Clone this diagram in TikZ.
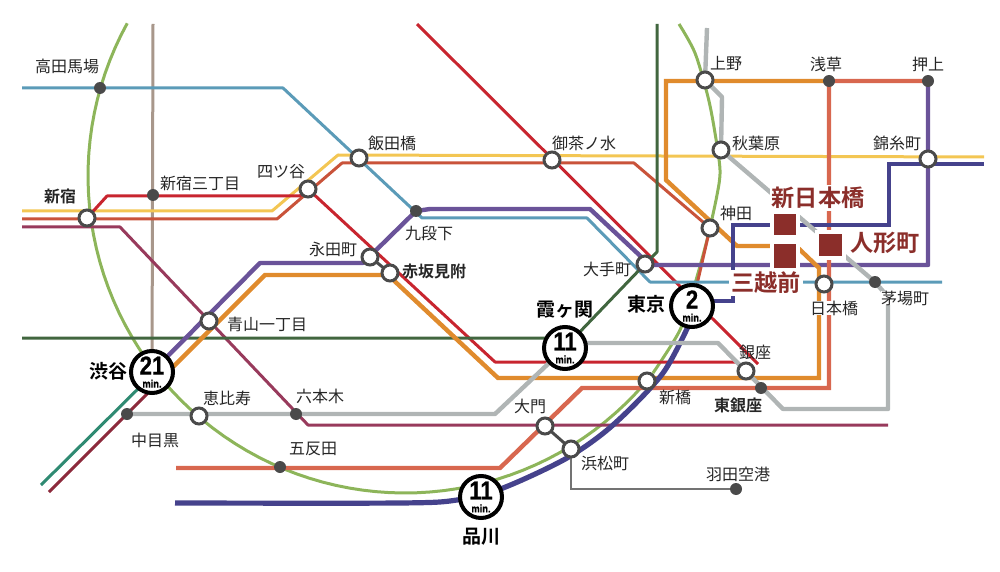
\documentclass[tikz,border=0pt]{standalone}
\usepackage{fontspec}
\usepackage{tikz}
\usetikzlibrary{backgrounds}
\setmainfont{Noto Sans CJK JP}[BoldFont={Noto Sans CJK JP Bold}]
\newfontfamily\numfont[FakeStretch=0.85,FakeBold=0.6]{Liberation Sans Bold}
\definecolor{yama}{HTML}{8DB55A}
\definecolor{sobu}{HTML}{F3C653}
\definecolor{chuo}{HTML}{C9533A}
\definecolor{maru}{HTML}{C8252F}
\definecolor{tozai}{HTML}{5B9BB8}
\definecolor{hanzo}{HTML}{6A5399}
\definecolor{ginza}{HTML}{E08B2D}
\definecolor{asa}{HTML}{D8674F}
\definecolor{oedo}{HTML}{45428C}
\definecolor{hibi}{HTML}{B0B5B5}
\definecolor{chiyo}{HTML}{41663F}
\definecolor{tokyu}{HTML}{2F8A72}
\definecolor{den}{HTML}{8C2A3C}
\definecolor{nan}{HTML}{983A5C}
\definecolor{fuku}{HTML}{A8978B}
\definecolor{stn}{HTML}{4A4A4A}
\definecolor{brick}{HTML}{8B2E2A}
\newcommand{\mins}[1]{{\numfont\fontsize{13}{12}\selectfont #1}\\[-5.5pt]{\numfont\fontsize{5.5}{5}\selectfont min.}}
\tikzset{
  thin line/.style={line width=1.5pt,line join=round},
  wide line/.style={line width=2.2pt,line join=round},
  open st/.style={circle,draw=stn,fill=white,line width=1.5pt,minimum size=8pt,inner sep=0pt},
  dot st/.style={circle,fill=stn,minimum size=6pt,inner sep=0pt},
  big st/.style={circle,draw=black,fill=white,line width=2pt,minimum size=21pt,inner sep=0pt,align=center},
  lbl/.style={font=\fontsize{8}{8}\selectfont,text=black!85,inner sep=0pt},
  bold lbl/.style={font=\fontsize{9.5}{9.5}\selectfont\bfseries,text=black,inner sep=0pt},
  red lbl/.style={font=\fontsize{11.6}{11.6}\selectfont\bfseries,text=brick,fill=white,inner sep=1pt},
  red sq/.style={fill=brick,preaction={draw=white,line width=4pt},inner sep=0pt}
}
\begin{document}
\begin{tikzpicture}[x=0.5pt,y=-0.5pt]
\useasboundingbox (0,0) rectangle (1000,572);

% stations
\node[dot st] (takada) at (100,88) {};
\node[dot st] (sanchome) at (153,195) {};
\node[open st] (shinjuku) at (87,218) {};
\node[open st] (yotsuya) at (308,189) {};
\node[open st] (iidabashi) at (359,158) {};
\node[open st] (ochanomizu) at (552,160) {};
\node[dot st] (kudan) at (416,211) {};
\node[open st] (nagatacho) at (370,257) {};
\node[open st] (akasaka) at (390,273) {};
\node[open st] (aoyama) at (209,321) {};
\node[big st] (shibuya) at (152,372) {\mins{21}};
\node[open st] (ebisu) at (199,416) {};
\node[dot st] (nakameguro) at (127,414) {};
\node[dot st] (roppongi) at (296,414) {};
\node[dot st] (gotanda) at (280,467) {};
\node[open st] (otemachi) at (645,264) {};
\node[big st] (kasumi) at (565,348) {\mins{11}};
\node[big st] (tokyo) at (692,306) {\mins{2}};
\node[open st] (nihombashi) at (824,284) {};
\node[dot st] (kayabacho) at (875,282) {};
\node[open st] (ginzast) at (746,371) {};
\node[dot st] (higashi) at (761,388) {};
\node[open st] (shimbashi) at (647,381) {};
\node[open st] (daimon) at (545,426) {};
\node[open st] (hamamatsu) at (571,449) {};
\node[dot st] (haneda) at (736,489) {};
\node[big st] (shinagawa) at (481,497) {\mins{11}};
\node[open st] (ueno) at (705,80) {};
\node[dot st] (asakusa) at (829,81) {};
\node[dot st] (oshiage) at (928,81) {};
\node[open st] (akiba) at (721,150) {};
\node[open st] (kinshi) at (928,159) {};
\node[open st] (kanda) at (710,228) {};

% the three stations of the building
\node[red sq,minimum width=11pt,minimum height=10.5pt] (shinnihon) at (785,225) {};
\node[red sq,minimum width=11pt,minimum height=12pt] (mitsukoshi) at (785,256) {};
\node[red sq,minimum width=11.5pt,minimum height=11pt] (ningyo) at (830,245) {};

% names
\node[lbl] (ltakada) at (67,66) {高田馬場};
\node[lbl] (lsanchome) at (200,183) {新宿三丁目};
\node[lbl,font=\fontsize{8}{8}\selectfont\bfseries] (lshinjuku) at (60,196) {新宿};
\node[lbl] (lyotsuya) at (281,172) {四ツ谷};
\node[lbl] (liidabashi) at (392,143) {飯田橋};
\node[lbl] (lochanomizu) at (584,143) {御茶ノ水};
\node[lbl] (lkudan) at (429,233) {九段下};
\node[lbl] (lnagatacho) at (333,249) {永田町};
\node[lbl,font=\fontsize{8}{8}\selectfont\bfseries] (lakasaka) at (434,271) {赤坂見附};
\node[lbl] (laoyama) at (267,324) {青山一丁目};
\node[bold lbl] (lshibuya) at (108,371) {渋谷};
\node[lbl] (lebisu) at (227,398) {恵比寿};
\node[lbl] (lnakameguro) at (155,440) {中目黒};
\node[lbl] (lroppongi) at (320,396) {六本木};
\node[lbl] (lgotanda) at (313,449) {五反田};
\node[lbl] (lotemachi) at (607,269) {大手町};
\node[bold lbl] (lkasumi) at (565,310) {霞ヶ関};
\node[bold lbl] (ltokyo) at (646,304) {東京};
\node[lbl,fill=white] (lnihombashi) at (834,308) {日本橋};
\node[lbl,fill=white] (lkayabacho) at (905,298) {茅場町};
\node[lbl] (lginza) at (755,352) {銀座};
\node[lbl,font=\fontsize{8}{8}\selectfont\bfseries] (lhigashi) at (738,405) {東銀座};
\node[lbl] (lshimbashi) at (675,397) {新橋};
\node[lbl] (ldaimon) at (530,406) {大門};
\node[lbl] (lhamamatsu) at (605,463) {浜松町};
\node[lbl] (lhaneda) at (738,474) {羽田空港};
\node[bold lbl] (lshinagawa) at (481,537) {品川};
\node[lbl] (lueno) at (726,64) {上野};
\node[lbl] (lasakusa) at (826,64) {浅草};
\node[lbl] (loshiage) at (928,64) {押上};
\node[lbl] (lakiba) at (756,143) {秋葉原};
\node[lbl] (lkinshi) at (897,143) {錦糸町};
\node[lbl] (lkanda) at (736,213) {神田};
\node[red lbl] (lshinnihon) at (818,198) {新日本橋};
\node[red lbl] (lningyo) at (885,243) {人形町};
\node[red lbl] (lmitsukoshi) at (766,283) {三越前};

% free ends of the lines
\coordinate (sobuW) at (22,211);
\coordinate (sobuE) at (984,157);
\coordinate (chuoW) at (22,219);
\coordinate (tozaiW) at (22,88);
\coordinate (tozaiE) at (942,282);
\coordinate (nanW) at (22,227);
\coordinate (nanE) at (888,425);
\coordinate (chiyoW) at (22,338);
\coordinate (chiyoN) at (657,24);
\coordinate (fukuN) at (153,24);
\coordinate (maruN) at (417,24);
\coordinate (maruE) at (758,364);
\coordinate (tokyuS) at (41,485);
\coordinate (tokyuN) at (150,377);
\coordinate (denS) at (49,492);
\coordinate (denN) at (160,381);
\coordinate (asaW) at (176,468);
\coordinate (oedoW) at (175,503);
\coordinate (oedoE) at (984,164);
\coordinate (oedoT) at (700,301);
\coordinate (ginzaW) at (165,375);
\coordinate (hibiN) at (707,28);

\begin{scope}[on background layer]
% ring line
\draw[yama,thin line] plot[domain=208.8:38.5,samples=70] ({405+317*cos(\x)},{176+317*sin(\x)});
\draw[yama,thin line] plot[smooth] coordinates {(653,373) (680,330) (694,287) (707,240) (717,195) (720,170) (715,133) (708,97) (695,53) (679,24)};
\draw[fuku,thin line] (fukuN) -- (shibuya.center);
\draw[sobu,thin line] (sobuW) -- (272,211) -- (338,155) -- (sobuE);
\draw[chuo,thin line] (chuoW) -- (277,219) -- (342,163) -- (634,163) -- (kanda.center) -- (tokyo.center);
\draw[maru,thin line] (shinjuku.center) -- (107,196) -- (300,196) -- (yotsuya.center) -- (495,362) -- (737,362) -- (ginzast.center);
\draw[maru,thin line] (maruN) -- (maruE);
\draw[tozai,thin line] (tozaiW) -- (283,88) -- (422,218) -- (587,218) -- (650,282) -- (tozaiE);
\draw[nan,thin line] (nanW) -- (120,227) -- (308,425) -- (nanE);
\draw[chiyo,thin line] (chiyoW) -- (574,338) -- (otemachi.center) -- (657,252) -- (chiyoN);
\draw[tokyu,thin line] (tokyuS) -- (tokyuN);
\draw[den,thin line] (denS) -- (denN);
\draw[hanzo,wide line] (shibuya.center) -- (260,263) -- (363,263) -- (kudan.center) -- (430,209) -- (590,209) -- (650,265) -- (928,265) -- (oshiage.center);
\draw[ginza,wide line,line join=miter] (asakusa.center) -- (666,81) -- (666,180) -- (737,246) -- (796,246) -- (819,268) -- (819,378) -- (498,378) -- (388,275) -- (265,275) -- (ginzaW);
\draw[asa,wide line,line join=miter] (oshiage.center) -- (829,81) -- (829,388) -- (582,388) -- (500,468) -- (asaW);
\draw[oedo,line width=2.6pt] plot[smooth] coordinates {(oedoW) (400,503) (457,500) (503,488) (567,458) (613,425) (663,373) (692,318)};
\draw[oedo,line width=2.2pt,line join=miter] (oedoT) -- (733,301) -- (733,225) -- (889,225) -- (889,164) -- (oedoE);
\draw[hibi,wide line] (nakameguro.center) -- (495,414) -- (kasumi.center) -- (588,343) -- (718,343) -- (783,409) -- (888,409) -- (888,297) -- (kayabacho.center) -- (akiba.center) -- (722,97) -- (ueno.center) -- (hibiN);
\draw[stn,thin line] (daimon.center) -- (hamamatsu.center);
\draw[stn,thin line] (nagatacho.center) -- (akasaka.center);
\draw[black!55,line width=1.3pt] (hamamatsu.center) -- (571,489) -- (haneda.center);
\end{scope}
\end{tikzpicture}
\end{document}
